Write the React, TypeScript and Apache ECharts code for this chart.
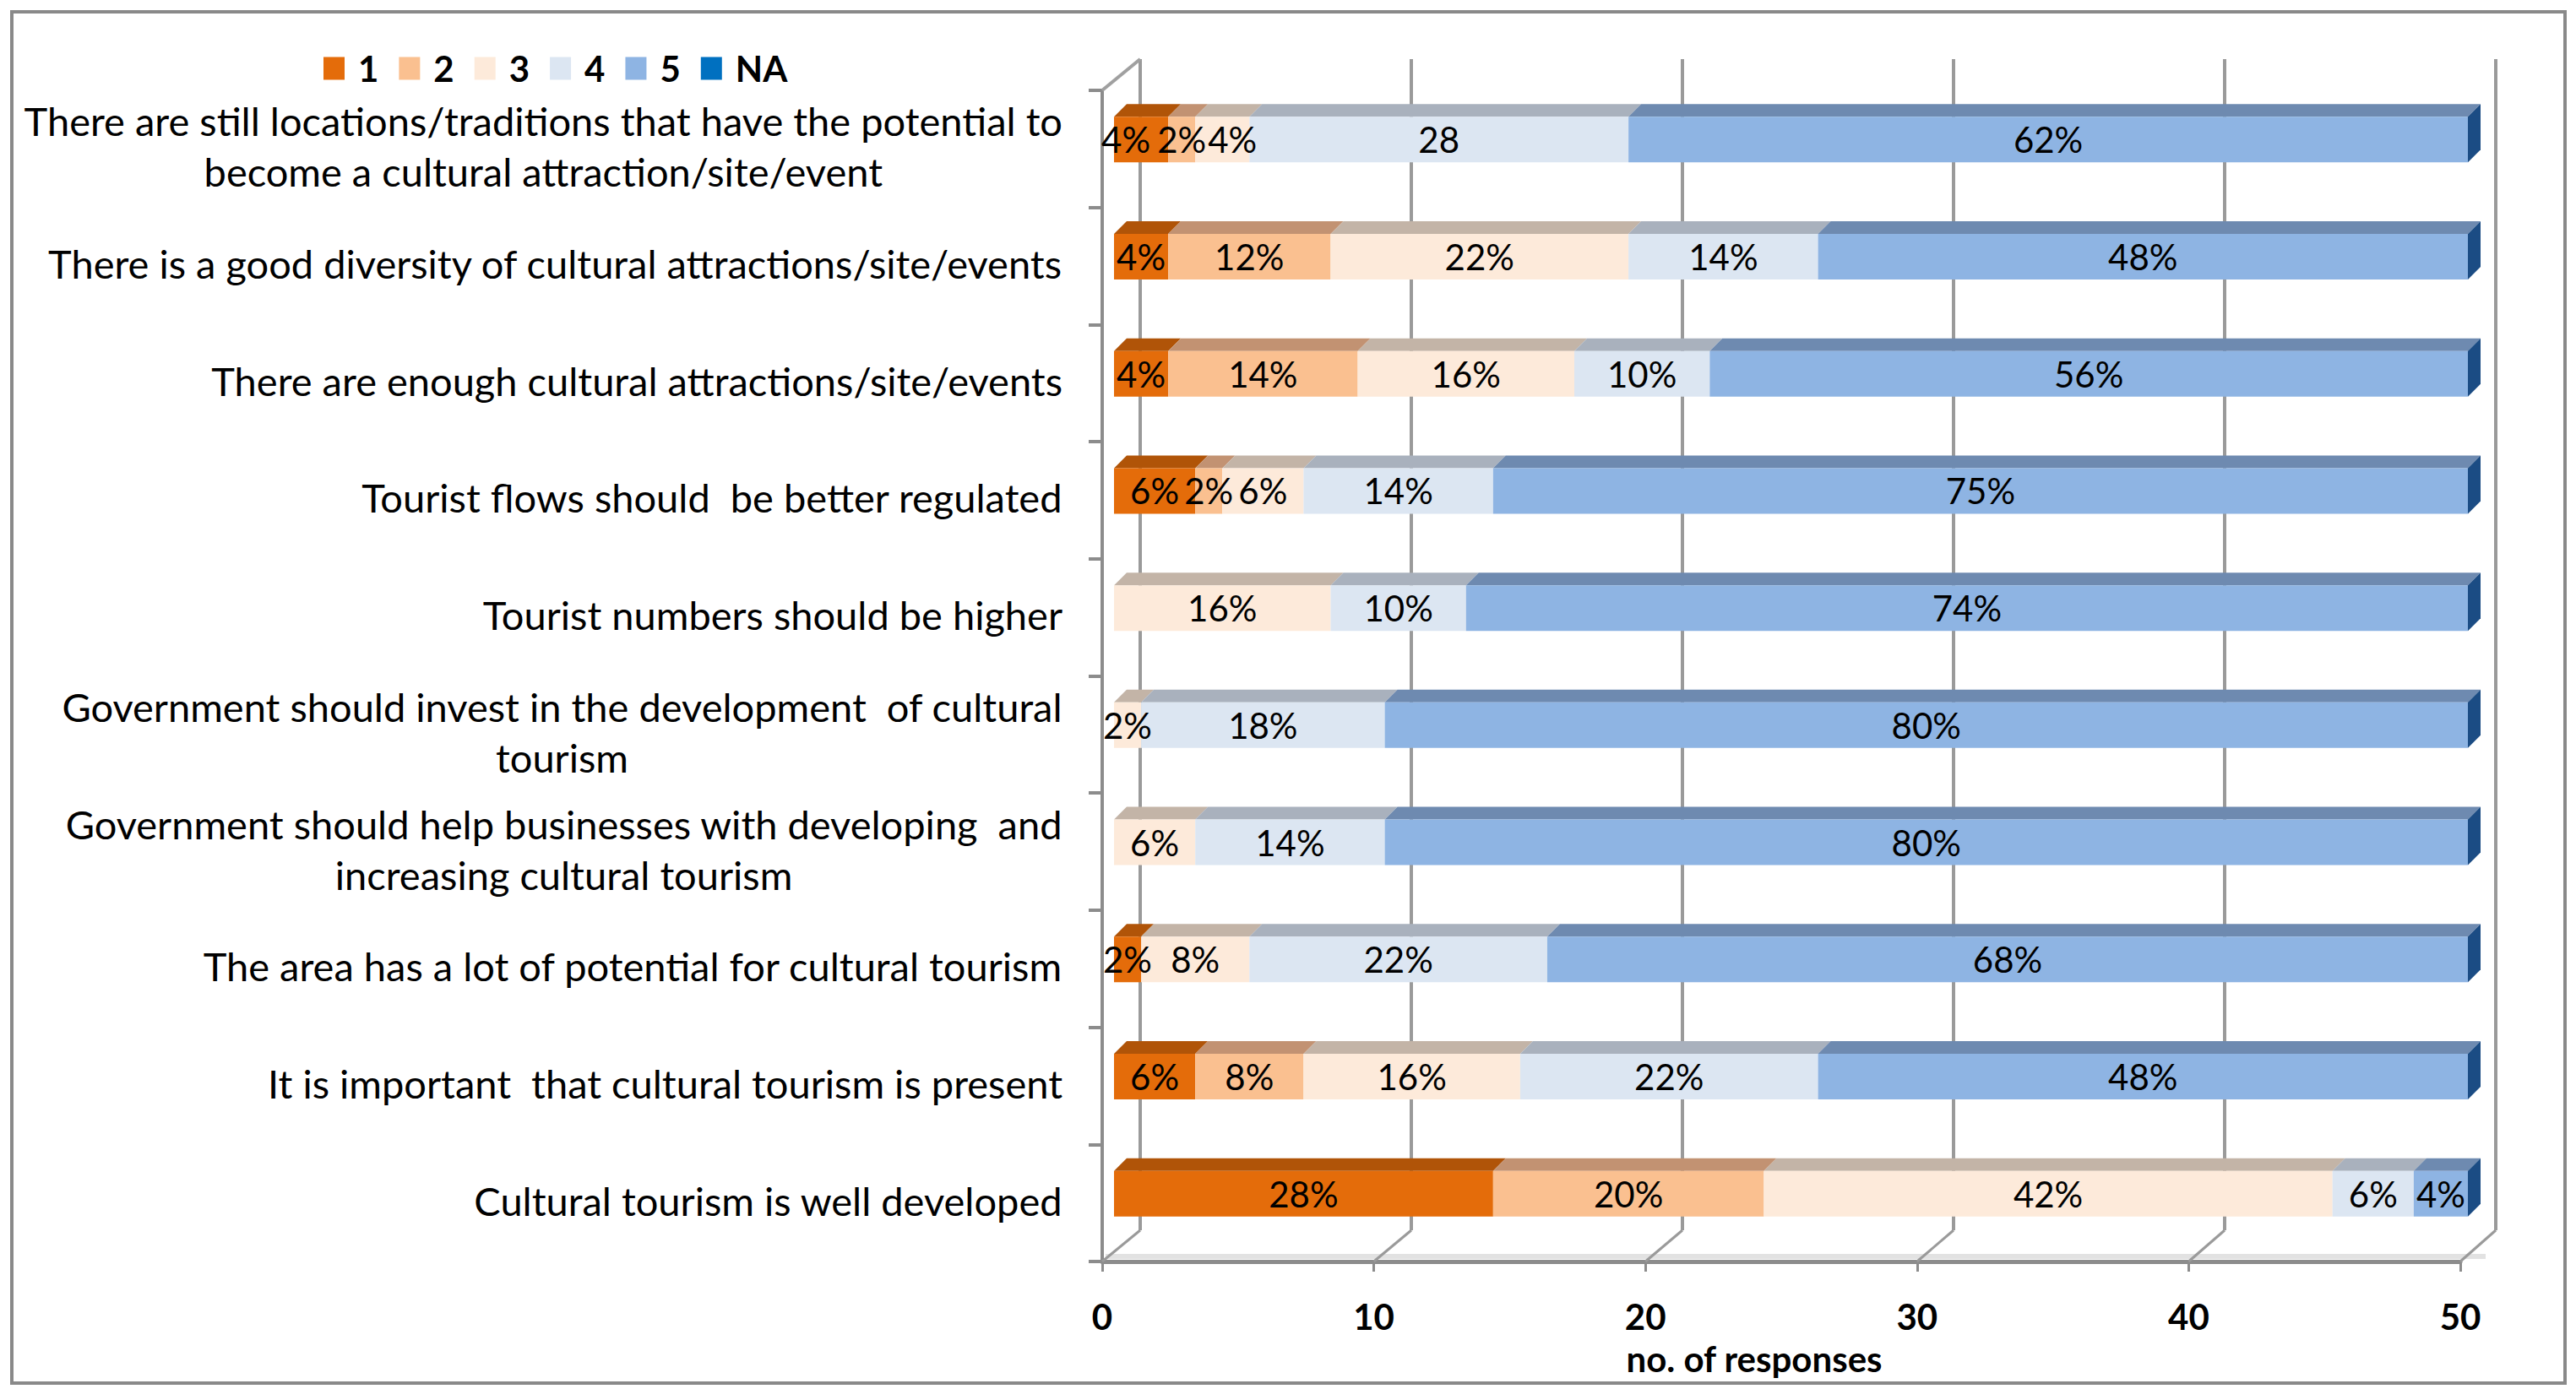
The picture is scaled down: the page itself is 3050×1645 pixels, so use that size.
import React, { useEffect, useRef } from "react";
import * as echarts from "echarts";

const categories = [
  "There are still locations/traditions that have the potential to\nbecome a cultural attraction/site/event",
  "There is a good diversity of cultural attractions/site/events",
  "There are enough cultural attractions/site/events",
  "Tourist flows should  be better regulated",
  "Tourist numbers should be higher",
  "Government should invest in the development  of cultural\ntourism",
  "Government should help businesses with developing  and\nincreasing cultural tourism",
  "The area has a lot of potential for cultural tourism",
  "It is important  that cultural tourism is present",
  "Cultural tourism is well developed",
];

const seriesNames = ["1", "2", "3", "4", "5", "NA"];

const level1 = [2, 2, 2, 3, 0, 0, 0, 1, 3, 14];
const level2 = [1, 6, 7, 1, 0, 0, 0, 0, 4, 10];
const level3 = [2, 11, 8, 3, 8, 1, 3, 4, 8, 21];
const level4 = [14, 7, 5, 7, 5, 9, 7, 11, 11, 3];
const level5 = [31, 24, 28, 36, 37, 40, 40, 34, 24, 2];
const levelNA = [0, 0, 0, 0, 0, 0, 0, 0, 0, 0];

const labels1 = ["4%", "4%", "4%", "6%", "", "", "", "2%", "6%", "28%"];
const labels2 = ["2%", "12%", "14%", "2%", "", "", "", "", "8%", "20%"];
const labels3 = ["4%", "22%", "16%", "6%", "16%", "2%", "6%", "8%", "16%", "42%"];
const labels4 = ["28", "14%", "10%", "14%", "10%", "18%", "14%", "22%", "22%", "6%"];
const labels5 = ["62%", "48%", "56%", "75%", "74%", "80%", "80%", "68%", "48%", "4%"];
const labelsNA = ["", "", "", "", "", "", "", "", "", ""];

const xMin = 0;
const xMax = 50;
const xInterval = 10;

const levels = [level1, level2, level3, level4, level5, levelNA];
const labelSets = [labels1, labels2, labels3, labels4, labels5, labelsNA];

// small horizontal nudges of crowded labels (row-level -> px), as in the original
const labelNudge: Record<string, number> = { "0-0": -18, "0-2": 12 };

const frontColors = ["#E46C0A", "#FAC090", "#FDEADA", "#DCE6F2", "#8EB4E3", "#0070C0"];
const topColors = ["#B05408", "#C29272", "#C3B4A7", "#A9B1BD", "#6E8AB0", "#00508A"];
const sideColor = "#1B4C84";

const FONT = "Lato, 'Open Sans', sans-serif";

const FRONT = { left: 1305, top: 107, width: 1608, height: 1387 };
const BAR = { left: 1319, top: 96, width: 1603, height: 1387 };
const BACK = { left: 1350, top: 70, width: 1605, height: 1387 };

export default function App() {
  const ref = useRef<HTMLDivElement>(null);

  useEffect(() => {
    document.body.style.margin = "0";
    document.body.style.overflow = "hidden";
    const chart = echarts.init(ref.current!, null, { renderer: "svg" });

    const faceData: number[][] = [];
    categories.forEach((_, i) => {
      let lastK = -1;
      levels.forEach((lv, k) => {
        if (lv[i] > 0) lastK = k;
      });
      let acc = 0;
      levels.forEach((lv, k) => {
        const v = lv[i];
        if (v > 0) faceData.push([acc, acc + v, i, k, k === lastK ? 1 : 0]);
        acc += v;
      });
    });

    const half = 27;
    const depth = 15;

    const barSeries = seriesNames.map((name, k) => ({
      type: "bar",
      name,
      stack: "total",
      xAxisIndex: 0,
      yAxisIndex: 0,
      barWidth: half * 2,
      z: 3,
      data: levels[k].map((v, i) => {
        const dx = labelNudge[`${i}-${k}`];
        return dx ? { value: v, label: { offset: [dx, 0] } } : v;
      }),
      itemStyle: { color: frontColors[k] },
      label: {
        show: true,
        position: "inside",
        color: "#000",
        fontSize: 42,
        fontFamily: FONT,
        formatter: (p: any) => labelSets[k][p.dataIndex],
      },
    }));

    const floorLines: any[] = [];
    const steps = (xMax - xMin) / xInterval;
    for (let i = 0; i <= steps; i++) {
      const bx = BACK.left + (BACK.width * i) / steps;
      const fx = FRONT.left + (FRONT.width * i) / steps;
      floorLines.push({
        type: "line",
        silent: true,
        shape: { x1: bx, y1: BACK.top + BACK.height, x2: fx, y2: FRONT.top + FRONT.height },
        style: { stroke: "#9A9A9A", lineWidth: 3 },
        z: 1,
      });
    }

    const option: any = {
      animation: false,
      backgroundColor: "#fff",
      textStyle: { fontFamily: FONT },
      legend: {
        data: seriesNames,
        left: 378,
        top: 55,
        icon: "rect",
        itemWidth: 25,
        itemHeight: 27,
        itemGap: 24,
        textStyle: {
          fontFamily: FONT,
          fontWeight: "bold",
          fontSize: 42,
          color: "#000",
          padding: [0, 0, 0, 11],
        },
      },
      grid: [
        { ...BAR, containLabel: false },
        { ...FRONT, containLabel: false },
        { ...BACK, containLabel: false },
      ],
      xAxis: [
        { type: "value", gridIndex: 0, min: xMin, max: xMax, interval: xInterval, show: false },
        {
          type: "value",
          gridIndex: 1,
          min: xMin,
          max: xMax,
          interval: xInterval,
          axisLine: { show: true, lineStyle: { color: "#8C8C8C", width: 5 } },
          axisTick: { show: true, length: 12, lineStyle: { color: "#8C8C8C", width: 3 } },
          splitLine: { show: false },
          axisLabel: {
            margin: 44,
            color: "#000",
            fontWeight: "bold",
            fontSize: 42,
            fontFamily: FONT,
          },
          name: "no. of responses",
          nameLocation: "middle",
          nameGap: 94,
          nameTextStyle: {
            color: "#000",
            fontWeight: "bold",
            fontSize: 42,
            fontFamily: FONT,
            padding: [0, 64, 0, 0],
          },
        },
        {
          type: "value",
          gridIndex: 2,
          min: xMin,
          max: xMax,
          interval: xInterval,
          axisLine: { show: false },
          axisTick: { show: false },
          axisLabel: { show: false },
          splitLine: { show: true, lineStyle: { color: "#9A9A9A", width: 4 } },
        },
      ],
      yAxis: [
        { type: "category", gridIndex: 0, data: categories, inverse: true, show: false },
        {
          type: "category",
          gridIndex: 1,
          data: categories,
          inverse: true,
          axisLine: { show: true, lineStyle: { color: "#8C8C8C", width: 4 } },
          axisTick: { show: true, length: 16, lineStyle: { color: "#8C8C8C", width: 4 } },
          axisLabel: {
            interval: 0,
            margin: 47,
            color: "#000",
            fontSize: 47,
            fontFamily: FONT,
            lineHeight: 60,
            padding: [0, 0, 6, 0],
            formatter: (v: string) =>
              v
                .split("\n")
                .map((l) => `{c|${l}}`)
                .join("\n"),
            rich: {
              c: { align: "center", fontSize: 47, fontFamily: FONT, color: "#000", lineHeight: 60 },
            },
          },
        },
        { type: "value", gridIndex: 2, show: false },
      ],
      series: [
        ...barSeries,
        {
          type: "custom",
          name: "faces",
          xAxisIndex: 0,
          yAxisIndex: 0,
          z: 2,
          clip: false,
          encode: { x: [0, 1], y: 2 },
          data: faceData,
          renderItem: (params: any, api: any) => {
            const s = api.value(0);
            const e = api.value(1);
            const row = api.value(2);
            const k = api.value(3);
            const last = api.value(4);
            const p0 = api.coord([s, row]);
            const p1 = api.coord([e, row]);
            const yT = p0[1] - half;
            const yB = p0[1] + half;
            const children: any[] = [
              {
                type: "polygon",
                shape: {
                  points: [
                    [p0[0], yT],
                    [p1[0], yT],
                    [p1[0] + depth, yT - depth],
                    [p0[0] + depth, yT - depth],
                  ],
                },
                style: { fill: topColors[k] },
              },
            ];
            if (last) {
              children.push({
                type: "polygon",
                shape: {
                  points: [
                    [p1[0], yT],
                    [p1[0] + depth, yT - depth],
                    [p1[0] + depth, yB - depth],
                    [p1[0], yB],
                  ],
                },
                style: { fill: sideColor },
              });
            }
            return { type: "group", children };
          },
        },
      ],
      graphic: [
        {
          type: "rect",
          silent: true,
          shape: { x: 14, y: 14, width: 3023, height: 1624 },
          style: { fill: "none", stroke: "#898989", lineWidth: 4 },
          z: 0,
        },
        {
          type: "line",
          silent: true,
          shape: { x1: FRONT.left, y1: FRONT.top, x2: BACK.left, y2: BACK.top },
          style: { stroke: "#A0A0A0", lineWidth: 4 },
          z: 1,
        },
        {
          type: "line",
          silent: true,
          shape: {
            x1: FRONT.left + 4,
            y1: FRONT.top + FRONT.height - 6,
            x2: FRONT.left + FRONT.width + 30,
            y2: FRONT.top + FRONT.height - 6,
          },
          style: { stroke: "#E2E2E2", lineWidth: 6 },
          z: 0,
        },
        ...floorLines,
      ],
    };

    chart.setOption(option);
    return () => chart.dispose();
  }, []);

  return <div ref={ref} style={{ width: 3050, height: 1645 }} />;
}
